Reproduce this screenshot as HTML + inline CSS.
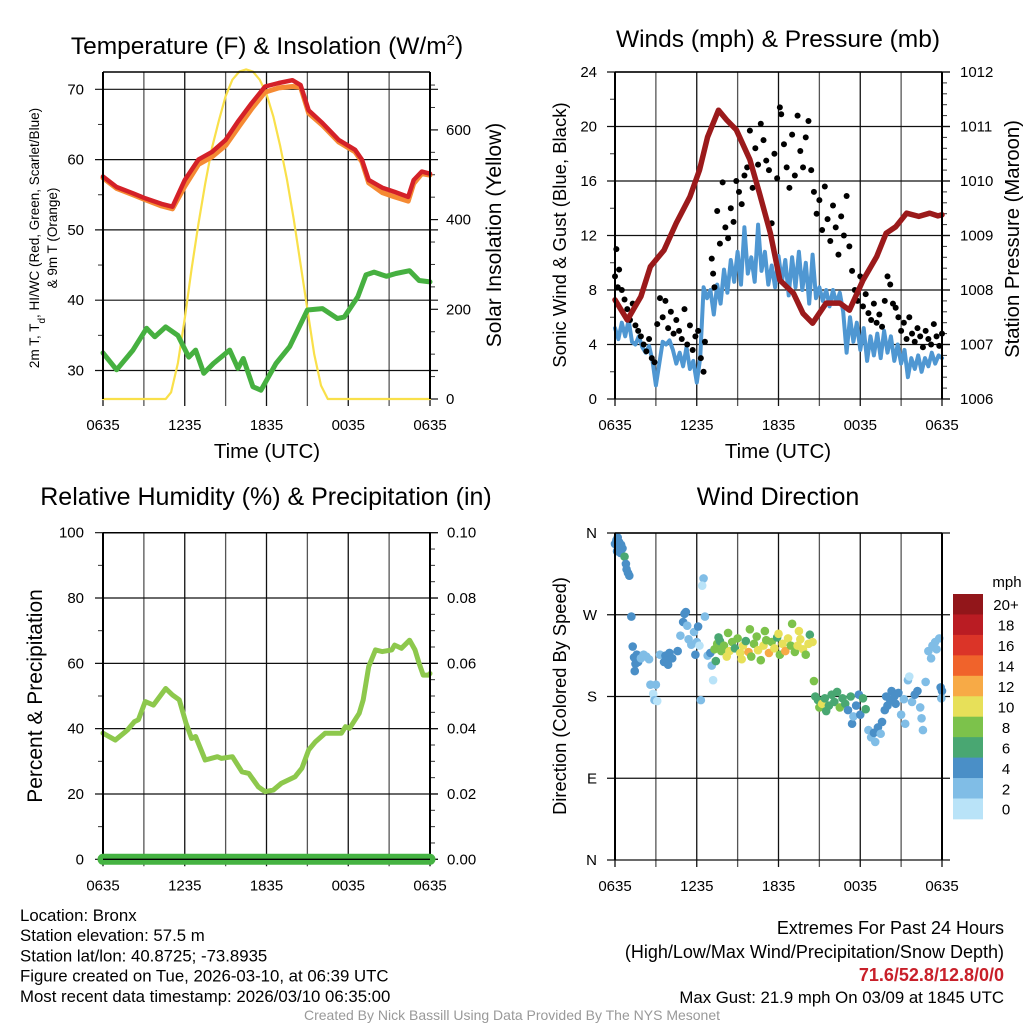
<!DOCTYPE html>
<html><head><meta charset="utf-8"><style>
html,body{margin:0;padding:0;background:#fff;}
svg{display:block;font-family:"Liberation Sans",Arial,sans-serif;}
</style></head><body>
<svg id="fig" xmlns="http://www.w3.org/2000/svg" width="1024" height="1024" viewBox="0 0 1024 1024">
<rect width="1024" height="1024" fill="#fff"/>
<g id="layer"></g>
</svg>
<script>
// ---------- DATA ----------
const xTickLabels = ["0635","1235","1835","0035","0635"];
const tempTicks = [30,40,50,60,70];
const solarTicks = [0,200,400,600];
const windTicks = [0,4,8,12,16,20,24];
const presTicks = [1006,1007,1008,1009,1010,1011,1012];
const rhTicks = [0,20,40,60,80,100];
const precipTicks = ["0.00","0.02","0.04","0.06","0.08","0.10"];
const dirLabels = ["N","E","S","W","N"];
const speedBins = ["0","2","4","6","8","10","12","14","16","18","20+"];
const speedColors = ["#b9e3f8","#80bde6","#4a8fc7","#49a772","#7cc24b","#e7e059","#f7aa46","#f0632b","#db3428","#ba1c23","#92161a"];

const tempT = [0,1.0,2.2,3.1,4.3,5.1,6.0,7.0,8.0,9.0,9.9,10.9,11.9,12.9,13.9,14.5,15.1,16.1,17.3,18.5,19.0,19.5,20.5,21.4,22.4,22.8,23.4,24];
const tempV = [57.6,56.1,55.2,54.5,53.7,53.3,57.1,60,61.1,62.8,65.4,68,70.4,70.9,71.3,70.6,67,65.2,62.8,61.4,60,57.1,56,55.4,54.7,57.1,58.3,58];
const temp9V = [57.4,55.9,55.0,54.3,53.4,53.0,56.2,59.3,60.4,62.0,64.5,67.2,69.6,70.2,70.4,70.3,66.6,64.9,62.5,61.1,59.7,56.7,55.3,54.7,54.1,56.6,58.0,57.8];
const dewT = [0,1,2.2,3.2,3.8,4.6,5.5,6.3,6.8,7.4,8.1,9.3,9.9,10.3,11.0,11.6,12.7,13.7,14.4,15.0,16.1,17.2,17.7,18.7,19.3,19.9,20.8,21.5,22.5,23.2,24];
const dewV = [32.5,30.1,32.9,36.0,34.8,36.2,35,31.9,32.9,29.6,31,32.9,30.3,31.7,27.7,27.2,31,33.4,36.2,38.6,38.8,37.4,37.6,40.5,43.6,44.0,43.4,43.8,44.2,42.8,42.6];
const solarT = [0,4.6,5,5.5,6,6.5,7,7.5,8,8.5,9,9.5,10,10.5,11,11.5,12,12.5,13,13.5,14,14.5,15,15.5,16,16.5,24];
const solarV = [0,0,15,80,180,290,390,480,560,620,675,712,730,735,730,712,680,630,565,490,400,300,200,100,30,0,0];

const presT = [0,0.9,1.9,2.6,3.6,4.5,5.5,6.2,6.8,7.6,8.2,8.9,9.9,10.6,11.4,12.1,13.1,13.8,14.5,15.5,16.5,17.2,18.2,19.2,19.9,20.6,21.4,22.3,23.1,23.7,24];
const presV = [1007.82,1007.45,1007.88,1008.43,1008.73,1009.23,1009.71,1010.2,1010.81,1011.3,1011.12,1010.94,1010.39,1009.78,1009.05,1008.18,1007.94,1007.57,1007.39,1007.76,1007.76,1007.63,1008.18,1008.61,1009.04,1009.16,1009.41,1009.35,1009.41,1009.36,1009.38];
const windV = [5.2,4.4,5.6,4.6, 5.8,4.2,4.0,4.6, 3.8,3.4,3.9,2.8, 1.0,2.6,4.2,4.0, 4.3,3.6,2.6,3.4, 2.4,3.8,2.2,2.8, 1.2,3.0,8.2,7.4, 8.0,6.2,8.4,7.0, 9.5,7.8,10.2,8.6, 10.8,8.4,12.6,9.2, 10.4,8.6,12.8,9.4, 10.8,8.4,9.8,8.2, 10.5,8.6,10.2,7.6, 10.4,8.2,10.8,8.0, 10.0,7.0,10.6,7.4, 8.2,7.2,8.0,6.8, 8.0,7.0,7.8,6.4, 3.4,6.0,4.2,5.6, 3.6,5.2,2.8,4.6, 3.2,4.8,3.0,5.0, 3.4,4.6,2.8,4.0, 2.6,3.6,1.6,3.0, 2.2,3.2,2.0,3.0, 2.4,3.4,2.6,3.2,3.0];
const gustT = [0,0.1,0.2,0.3,0.5,0.7,0.9,1.1,1.3,1.5,1.7,1.9,2.1,2.3,2.5,2.7,2.9,3.1,3.3,3.5,3.7,3.9,4.1,4.3,4.5,4.7,4.9,5.1,5.3,5.5,5.7,5.9,6.1,6.3,6.5,6.6,7.1,7.2,7.3,7.5,7.7,7.9,8.1,8.3,8.5,8.7,8.9,9.1,9.3,9.5,9.7,9.9,10.1,10.3,10.5,10.7,10.9,11.1,11.3,11.5,11.7,11.9,12.1,12.2,12.4,12.6,12.8,13.0,13.2,13.4,13.6,13.8,14.0,14.2,14.4,14.6,14.8,15.0,15.2,15.4,15.6,15.8,16.0,16.2,16.4,16.6,16.8,17.0,17.2,17.4,17.6,17.8,18.0,18.2,18.4,18.6,18.8,19.0,19.2,19.4,19.6,19.8,20.0,20.2,20.4,20.6,20.8,21.0,21.2,21.4,21.6,21.8,22.0,22.2,22.4,22.6,22.8,23.0,23.2,23.4,23.6,23.8,24];
const gustV = [9.0,11.0,8.2,9.5,8.0,7.3,6.6,5.8,7.0,5.4,5.0,4.6,4.0,3.5,4.4,3.0,2.7,5.5,7.4,6.0,7.2,5.2,6.4,4.8,5.8,5.0,4.4,6.6,4.0,5.4,3.6,4.6,5.0,3.0,2.0,4.2,10.3,9.2,8.2,13.8,11.4,15.9,12.6,11.8,14.0,13.0,16.0,15.2,14.3,16.4,17.0,19.7,15.5,18.4,17.2,20.2,19.0,17.5,16.8,12.9,18.0,16.2,21.4,20.9,18.7,17.0,15.5,19.4,16.4,20.8,18.2,17.0,19.2,20.4,16.8,15.2,13.6,14.6,12.4,15.6,13.2,11.6,14.2,12.6,10.6,13.4,12.0,14.9,11.2,9.4,8.0,7.2,9.0,6.8,7.7,6.3,5.8,7.0,5.6,6.2,5.3,7.2,9.0,8.4,7.0,6.7,6.0,5.0,5.6,4.4,6.0,4.8,4.2,5.2,4.6,3.8,5.0,4.4,4.0,5.5,4.6,3.9,4.8];

const rhT = [0,0.9,1.8,2.3,2.6,3.1,3.7,4.6,5.1,5.6,6.1,6.5,6.8,7.5,8.4,8.7,9.5,10.2,10.7,11.4,11.9,12.5,13.1,14.1,14.6,15.1,15.6,16.3,17.0,17.5,17.8,18.1,18.8,19.1,19.5,20,20.5,21.2,21.4,21.9,22.5,22.9,23.2,23.5,23.9,24];
const rhV = [38.6,36.5,39.6,42.1,42.7,48.3,47.2,52.3,50.3,48.8,41.6,37,37.6,30.4,31.4,30.9,31.4,26.8,26.3,22.2,20.7,21.2,23.3,25.3,27.9,33.5,36,38.6,38.6,38.6,40.6,40.1,44.7,48.8,59,64.1,63.6,64.1,65.6,64.6,67.1,64.1,60,56.4,56.4,56.9];
const precipT = [0,24];
const precipV = [0,0];

const dirT = [0.0,0.1,0.2,0.3,0.35,0.45,0.55,0.15,0.4,0.7,0.8,0.85,0.95,1.05, 1.2,1.3,1.4,1.5,1.45,1.6,1.7,1.9,2.1,2.3,2.5,2.6,2.8,2.9,3.0,3.1, 3.3,3.6,3.7,3.8,3.9,4.0,4.2,4.6,4.8,5.0,5.1,5.2,5.3,5.4,5.6,5.8,6.0,5.9,6.1,6.2,6.3,6.5,6.4,6.6, 6.8,7.0,7.1,7.2,7.3,7.4,7.5,7.7,7.8,8.0,8.2,8.4,8.6,8.8,9.0,9.2,9.3,9.4,9.6,9.8,10.0,10.2,10.4,10.5,10.7,10.9,11.1,11.3,11.5,11.7,11.9,12.1,12.3,12.5,12.7,12.9,13.0,13.2,13.4,13.6,13.8,14.0,14.2,14.3,14.5,9.9,11.0,12.0,8.3,7.6,13.5, 14.6,14.7,14.9,15.0,15.2,15.4,15.5,15.7,15.9,16.1,16.3,16.5,16.7,16.9,17.1,17.3,17.4,17.5,17.7,17.9,18.0,18.2,18.4, 18.6,18.8,19.0,19.1,19.3,19.5,19.6,19.8,19.9,20.0,20.2,20.3,20.5,20.6,20.8,21.0,21.2,21.3,21.5,21.6,21.8,22.0,22.2,22.4,22.5,22.6,22.8,23.0,23.2,23.3,23.5,23.6,23.8,23.9,24.0,23.95];
const dirDeg = [348,352,355,350,345,347,343,340,338,334,326,320,316,313, 268,235,223,216,208,226,218,222,226,224,221,193,183,176,193,175, 226,218,225,220,215,228,222,230,247,262,271,273,258,243,237,251,240,226,257,236,176,310,302,268, 225,228,214,198,232,219,238,241,230,236,224,230,240,233,244,228,221,236,241,229,224,238,246,231,220,236,242,228,240,233,245,226,238,230,244,236,260,229,236,243,232,226,238,248,240,254,252,249,250,245,252, 197,180,176,168,172,178,164,170,182,174,185,168,178,172,165,180,150,158,170,182,160,178,166, 143,135,140,130,146,139,152,165,180,170,176,186,180,172,184,160,177,150,198,202,174,182,186,168,156,143,196,230,222,236,240,232,244,190,186,178];
const dirSpd = [4,4,5,4,4,5,4,4,5,7,4,4,4,5, 5,5,5,5,4,5,5,3,3,3,3,3,1,3,3,1, 3,5,5,5,5,4,4,5,3,4,5,5,3,3,3,3,3,5,4,1,3,3,1,2, 3,5,3,1,8,7,8,7,9,8,10,10,8,6,8,10,11,10,7,12,9,8,9,10,8,10,8,12,9,10,6,8,10,12,11,8,8,8,10,11,10,9,11,6,10,8,9,10,8,7,11, 8,7,6,8,10,7,6,6,6,6,7,8,7,6,5,6,5,2,5,4,5,6,7, 3,2,4,3,5,2,4,4,4,5,4,5,5,5,4,2,3,3,3,1,3,4,4,3,2,3,2,2,2,2,2,2,2,4,4,3];

// ---------- HELPERS ----------
const NS = "http://www.w3.org/2000/svg";
const layer = document.getElementById("layer");
function mk(tag, attrs, parent){ const e=document.createElementNS(NS,tag); for(const k in attrs) e.setAttribute(k,attrs[k]); (parent||layer).appendChild(e); return e; }
function txt(str, x, y, size, anchor, parent, extra){ const e=mk("text",Object.assign({x:x,y:y,"font-size":size,"text-anchor":anchor||"middle",fill:"#000"},extra||{}),parent); e.textContent=str; return e; }
function grp(name){ const g=mk("g",{});   return g; }

function panel(P){
  const g = grp(P.name);
  const xs = t => P.x0 + (P.x1-P.x0)*t/24;
  const gg = mk("g",{},g);
  
  
  for(let i=0;i<=8;i++){ const x=xs(i*3); mk("line",{x1:x,x2:x,y1:P.yT,y2:P.yB+7,stroke:(i%2?"#555":"#111"),"stroke-width":1.3},gg); }
  P.hgrid.forEach(y=>mk("line",{x1:P.x0-8,x2:P.x1+8,y1:y,y2:y,stroke:"#111","stroke-width":1.2},gg));
  xTickLabels.forEach((l,i)=>{ const e=txt(l, xs(i*6), P.yB+31, 15, "middle", g);   });
  return {g, xs};
}
function frame(P,g){
  mk("line",{x1:P.x0,x2:P.x0,y1:P.yT,y2:P.yB,stroke:"#000","stroke-width":2},g);
  mk("line",{x1:P.x1,x2:P.x1,y1:P.yT,y2:P.yB,stroke:"#000","stroke-width":2},g);
  mk("line",{x1:P.x0,x2:P.x1,y1:P.yT,y2:P.yT,stroke:"#000","stroke-width":1.5},g);
}
function minor(x, ys, dir, g){ ys.forEach(y=>mk("line",{x1:x,x2:x+dir*5,y1:y,y2:y,stroke:"#333","stroke-width":1},g)); }
function poly(pts, stroke, w, g, name){ const e=mk("polyline",{points:pts.map(p=>p[0].toFixed(1)+","+p[1].toFixed(1)).join(" "),fill:"none",stroke:stroke,"stroke-width":w,"stroke-linejoin":"round","stroke-linecap":"round"},g);   return e; }
function rot(str,x,y,size,g,name){ const e=txt(str,x,y,size,"middle",g,{transform:`rotate(-90 ${x} ${y})`});   return e; }

// ---------- PANEL 1 ----------
(function(){
  const P={name:"temperature-panel",x0:103,x1:430,yT:72,yB:399};
  const ty = v => 89.3 + (70-v)*7.03;
  const sy = s => 399 - s*0.4485;
  P.hgrid = tempTicks.map(ty);
  const {g,xs}=panel(P);
  const t1=txt("",267,54,24.5,"middle",g);
   
  t1.innerHTML='Temperature (F) &amp; Insolation (W/m<tspan dy="-9" font-size="15">2</tspan><tspan dy="9">)</tspan>';
  tempTicks.forEach(v=>{const e=txt(String(v),84,ty(v)+5,15,"end",g);  });
  solarTicks.forEach(v=>{mk("line",{x1:430,x2:438,y1:sy(v),y2:sy(v),stroke:"#111","stroke-width":1.2},g); const e=txt(String(v),446,sy(v)+5,15,"start",g);  });
  const mt=[]; for(let v=25;v<=75;v+=5) if(v%10) { const y=ty(v); if(y>P.yT&&y<P.yB) mt.push(y);} minor(103,mt,-1,g);
  const ms=[]; for(let v=50;v<=700;v+=50) if(v%200) ms.push(sy(v)); minor(430,ms,1,g);
  const lb1=txt("",39,238,13.5,"middle",g,{transform:"rotate(-90 39 238)"});
   
  lb1.innerHTML='2m T, T<tspan baseline-shift="sub" font-size="10">d</tspan>, HI/WC (Red, Green, Scarlet/Blue)';
  rot("& 9m T (Orange)",57,238,13.5,g,"temp-axis-title-line2");
  rot("Solar Insolation (Yellow)",501,235,21,g,"solar-axis-title");
  const tx=txt("Time (UTC)",267,458,20.5,"middle",g);  
  poly(solarT.map((t,i)=>[xs(t),sy(solarV[i])]),"#f9e04a",2.2,g,"solar-line");
  poly(tempT.map((t,i)=>[xs(t),ty(temp9V[i])]),"#f58a33",5,g,"temp-9m-line");
  poly(tempT.map((t,i)=>[xs(t),ty(tempV[i])]),"#d42128",4.5,g,"temp-2m-line");
  poly(dewT.map((t,i)=>[xs(t),ty(dewV[i])]),"#46b040",5,g,"dewpoint-line");
  frame(P,g);
})();

// ---------- PANEL 2 ----------
(function(){
  const P={name:"wind-pressure-panel",x0:615,x1:942,yT:72,yB:399};
  const wy = v => 399 - v*13.625;
  const py = p => 399 - (p-1006)*54.5;
  P.hgrid = windTicks.map(wy);
  const {g,xs}=panel(P);
  const t1=txt("Winds (mph) & Pressure (mb)",778,47,24.5,"middle",g);  
  windTicks.forEach(v=>{const e=txt(String(v),597,wy(v)+5,15,"end",g);  });
  presTicks.forEach(v=>{mk("line",{x1:942,x2:950,y1:py(v),y2:py(v),stroke:"#111","stroke-width":1.2},g); const e=txt(String(v),960,py(v)+5,15,"start",g);  });
  const mw=[]; for(let v=2;v<24;v+=4) mw.push(wy(v)); minor(615,mw,-1,g);
  const mp=[]; for(let p=1006.2;p<1012;p+=0.2){ if(Math.abs(p-Math.round(p))>0.05) mp.push(py(p)); } minor(942,mp,1,g);
  rot("Sonic Wind & Gust (Blue, Black)",566,235,18.5,g,"wind-axis-title");
  rot("Station Pressure (Maroon)",1019,239,20.3,g,"pressure-axis-title");
  const tx=txt("Time (UTC)",778,458,20.5,"middle",g);  
  poly(windV.map((v,i)=>[xs(i*0.25),wy(v)]),"#4f97d2",4,g,"sonic-wind-line");
  gustT.forEach((t,i)=>{ const c=mk("circle",{cx:xs(t),cy:wy(gustV[i]),r:3,fill:"#000"},g);
    
     });
  poly(presT.map((t,i)=>[xs(t),py(presV[i])]),"#9b1a1b",5.5,g,"pressure-line");
  frame(P,g);
})();

// ---------- PANEL 3 ----------
(function(){
  const P={name:"humidity-precip-panel",x0:103,x1:430,yT:532.7,yB:859.3};
  const ry = v => 859.3 - v*3.266;
  P.hgrid = rhTicks.map(ry);
  const {g,xs}=panel(P);
  const t1=txt("Relative Humidity (%) & Precipitation (in)",266,505,25,"middle",g);  
  rhTicks.forEach(v=>{const e=txt(String(v),84,ry(v)+5,15,"end",g);  });
  precipTicks.forEach((l,i)=>{const y=ry(i*20); mk("line",{x1:430,x2:438,y1:y,y2:y,stroke:"#111","stroke-width":1.2},g); const e=txt(l,447,y+5,15,"start",g);  });
  const m=[]; for(let v=10;v<100;v+=20) m.push(ry(v)); minor(103,m,-1,g);
  const m2=[]; for(let v=5;v<100;v+=5) if(v%20) m2.push(ry(v)); minor(430,m2,1,g);
  rot("Percent & Precipitation",42,696,21,g,"rh-axis-title");
  poly(rhT.map((t,i)=>[xs(t),ry(rhV[i])]),"#8dc84c",5,g,"rh-line");
  frame(P,g);
  poly(precipT.map((t,i)=>[xs(t),ry(precipV[i]*1000)]),"#45b342",11,g,"precip-line");
  mk("line",{x1:103,x2:430,y1:859.3,y2:859.3,stroke:"#000","stroke-width":1.4},g);
})();

// ---------- PANEL 4 ----------
(function(){
  const P={name:"wind-direction-panel",x0:615,x1:942,yT:533,yB:860};
  const dy = d => 860 - d/360*327;
  P.hgrid = [0,90,180,270,360].map(dy);
  const {g,xs}=panel(P);
  const t1=txt("Wind Direction",778,505,25,"middle",g);  
  dirLabels.forEach((l,i)=>{const e=txt(l,597,dy(i*90)+5,15,"end",g);  });
  rot("Direction (Colored By Speed)",566,696,18.3,g,"direction-axis-title");
  dirT.forEach((t,i)=>{ const b=Math.min(10,Math.floor(dirSpd[i]/2)); const c=mk("circle",{cx:xs(t),cy:dy(dirDeg[i]),r:4.3,fill:speedColors[b]},g);
    
     });
  frame(P,g);
  const cb=mk("g",{},g);
  
  
  const h=20.45, top=594;
  for(let i=0;i<11;i++){ const k=10-i;
    const r=mk("rect",{x:953,y:top+i*h,width:30,height:h+0.4,fill:speedColors[k]},cb);
    
    
    const e=txt(speedBins[k],1006,top+i*h+h/2+6,15,"middle",cb);   }
  const u=txt("mph",1007,587,15,"middle",cb);  
})();

// ---------- FOOTER ----------
(function(){
  const g=grp("footer-info");
  const L=["Location: Bronx","Station elevation: 57.5 m","Station lat/lon: 40.8725; -73.8935","Figure created on Tue, 2026-03-10, at 06:39 UTC","Most recent data timestamp: 2026/03/10 06:35:00"];
  L.forEach((s,i)=>{const e=txt(s,20,921+i*20.2,16.8,"start",g);  });
  const R=["Extremes For Past 24 Hours","(High/Low/Max Wind/Precipitation/Snow Depth)"];
  R.forEach((s,i)=>{const e=txt(s,1004,934+i*24,18,"end",g);  });
  const x=txt("71.6/52.8/12.8/0/0",1004,981,18,"end",g,{fill:"#c8202a","font-weight":"bold"});  
  const mg=txt("Max Gust: 21.9 mph On 03/09 at 1845 UTC",1004,1003,16.8,"end",g);  
  const cr=txt("Created By Nick Bassill Using Data Provided By The NYS Mesonet",512,1020,14,"middle",g,{fill:"#999"});  
})();
</script>
</body></html>
